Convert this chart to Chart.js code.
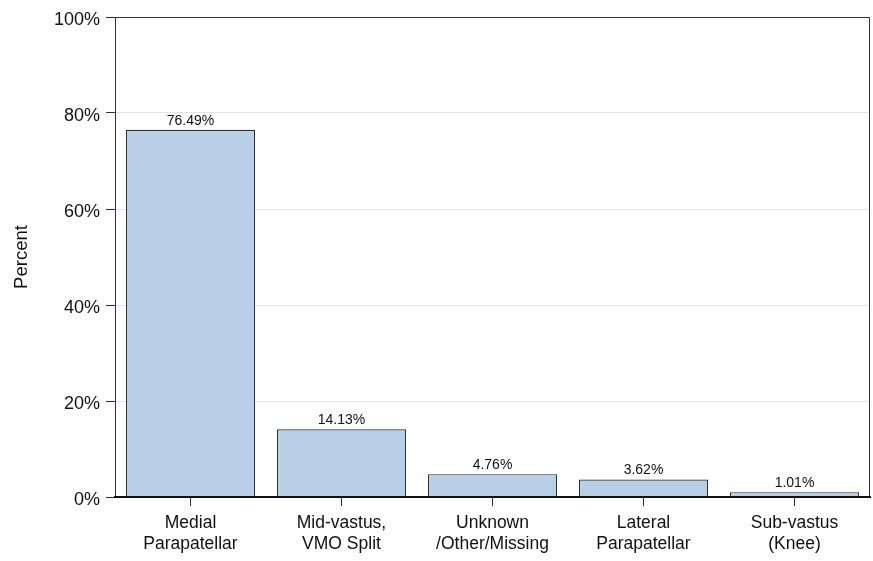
<!DOCTYPE html>
<html>
<head>
<meta charset="utf-8">
<script src="https://cdn.jsdelivr.net/npm/chart.js@4/dist/chart.umd.min.js"></script>
<style>
  html, body { margin: 0; padding: 0; background: #fff; }
  #wrap { width: 873px; height: 561px; }
</style>
</head>
<body>
<div id="wrap"><canvas id="c" width="873" height="561"></canvas></div>
<script>
const categories = [
  ["Medial", "Parapatellar"],
  ["Mid-vastus,", "VMO Split"],
  ["Unknown", "/Other/Missing"],
  ["Lateral", "Parapatellar"],
  ["Sub-vastus", "(Knee)"]
];
const percentValues = [76.49, 14.13, 4.76, 3.62, 1.01];
const yTicks = [0, 20, 40, 60, 80, 100];

const FONT = "'Liberation Sans', Arial, sans-serif";

const frameAndLabels = {
  id: 'frameAndLabels',
  afterDatasetsDraw(chart) {
    const ctx = chart.ctx;
    const a = chart.chartArea;
    ctx.save();
    ctx.strokeStyle = '#333333';
    ctx.lineWidth = 1;
    ctx.beginPath();
    ctx.moveTo(a.left, a.top + 0.5);
    ctx.lineTo(a.right - 0.5, a.top + 0.5);
    ctx.lineTo(a.right - 0.5, a.bottom);
    ctx.stroke();
    ctx.lineWidth = 2;
    ctx.strokeStyle = '#111111';
    ctx.beginPath();
    ctx.moveTo(a.left, a.bottom);
    ctx.lineTo(a.right, a.bottom);
    ctx.stroke();
    const meta = chart.getDatasetMeta(0);
    ctx.fillStyle = '#111111';
    ctx.font = '14px ' + FONT;
    ctx.textAlign = 'center';
    ctx.textBaseline = 'bottom';
    meta.data.forEach((el, i) => {
      const v = chart.data.datasets[0].data[i];
      ctx.fillText(v.toFixed(2) + '%', el.x, el.y - 2);
    });
    ctx.restore();
  }
};

new Chart(document.getElementById('c'), {
  type: 'bar',
  data: {
    labels: categories,
    datasets: [{
      data: percentValues,
      backgroundColor: '#b9cfe7',
      borderColor: '#2e2e2e',
      borderWidth: 1.2,
      borderSkipped: 'bottom',
      categoryPercentage: 0.855,
      barPercentage: 1.0
    }]
  },
  options: {
    responsive: false,
    animation: false,
    devicePixelRatio: 1,
    layout: { padding: { left: 0, right: 3, top: 17, bottom: 0 } },
    plugins: {
      legend: { display: false },
      tooltip: { enabled: false }
    },
    scales: {
      x: {
        grid: {
          display: true,
          drawOnChartArea: false,
          drawTicks: true,
          tickLength: 9,
          tickColor: '#333333',
          offset: false
        },
        border: { display: true, color: '#111111', width: 2 },
        ticks: {
          color: '#111111',
          font: { family: FONT, size: 17.5, lineHeight: 1.2 },
          padding: 7,
          maxRotation: 0,
          autoSkip: false
        },
        afterFit(scale) { scale.height = 64; }
      },
      y: {
        min: 0,
        max: 100,
        afterBuildTicks(scale) { scale.ticks = yTicks.map(v => ({ value: v })); },
        grid: {
          color: '#e3e3e3',
          lineWidth: 1,
          drawTicks: true,
          tickLength: 9,
          tickColor: '#333333'
        },
        border: { display: true, color: '#333333', width: 1 },
        ticks: {
          color: '#111111',
          font: { family: FONT, size: 18 },
          padding: 6,
          labelOffset: 3,
          callback: v => v + '%'
        },
        title: {
          display: true,
          text: 'Percent',
          color: '#111111',
          font: { family: FONT, size: 18.5 },
          padding: { top: 11, bottom: 0 }
        },
        afterFit(scale) { scale.width = 115; }
      }
    }
  },
  plugins: [frameAndLabels]
});
</script>
</body>
</html>
